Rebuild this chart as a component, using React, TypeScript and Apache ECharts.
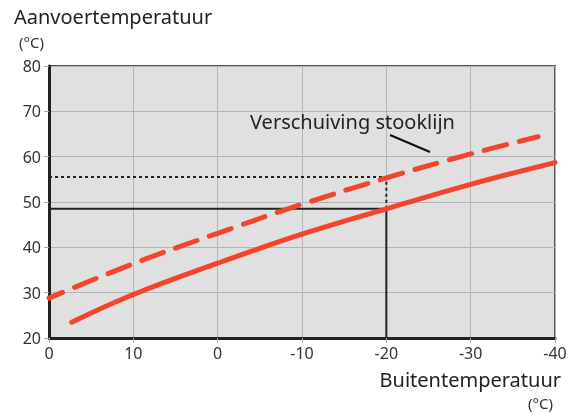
import React, { useEffect, useRef } from "react";
import * as echarts from "echarts";

const xTickLabels = ["0", "10", "0", "-10", "-20", "-30", "-40"];
const solidCurve: [number, number][] = [
  [17.3, 23.5], [10, 29.6], [0, 36.5], [-10, 42.9], [-20, 48.5], [-30, 53.9], [-40, 58.7],
];
const dashedCurve: [number, number][] = [
  [20, 28.8], [10, 36.4], [0, 43.1], [-10, 49.5], [-20, 55.3], [-30, 60.6], [-38, 64.4],
];
const solidGuide: [number, number][] = [[20, 48.5], [-20, 48.5], [-20, 20]];
const dottedGuide: [number, number][] = [[20, 55.5], [-20, 55.5], [-20, 48.5]];

const FONT = "Noto Sans";
const RED = "#f2452b";

export default function App() {
  const ref = useRef<HTMLDivElement>(null);
  useEffect(() => {
    const chart = echarts.init(ref.current!, null, { renderer: "svg" });
    chart.setOption({
      animation: false,
      textStyle: { fontFamily: FONT },
      grid: {
        left: 49, top: 66, right: 18, bottom: 75,
        show: true, backgroundColor: "#e0e0e0", borderColor: "#555", borderWidth: 2,
      },
      xAxis: {
        type: "value", min: -40, max: 20, interval: 10, inverse: true,
        axisLine: { show: true, onZero: false, lineStyle: { color: "#222", width: 3 } },
        axisTick: { show: true, length: 5, lineStyle: { color: "#aaa" } },
        splitLine: { show: true, lineStyle: { color: "#b4b4b4", width: 1 } },
        axisLabel: {
          color: "#333", fontSize: 16, fontFamily: FONT, margin: 7,
          formatter: (v: number) => xTickLabels[Math.round((20 - v) / 10)],
        },
      },
      yAxis: {
        type: "value", min: 20, max: 80, interval: 10,
        axisLine: { show: true, onZero: false, lineStyle: { color: "#222", width: 3 } },
        axisTick: { show: true, length: 5, lineStyle: { color: "#aaa" } },
        splitLine: { show: true, lineStyle: { color: "#b4b4b4", width: 1 } },
        axisLabel: { color: "#333", fontSize: 16, fontFamily: FONT, margin: 8 },
      },
      series: [
        {
          type: "line", data: solidGuide, symbol: "none",
          lineStyle: { color: "#222", width: 2 }, z: 3,
        },
        {
          type: "line", data: dottedGuide, symbol: "none",
          lineStyle: { color: "#222", width: 2, type: [3, 3] }, z: 3,
        },
        {
          type: "line", data: solidCurve, symbol: "none", smooth: 0.4,
          lineStyle: { color: RED, width: 5, cap: "round" }, z: 4,
        },
        {
          type: "line", data: dashedCurve, symbol: "none", smooth: 0.4,
          lineStyle: { color: RED, width: 5, type: [23, 13], cap: "round", dashOffset: 8 }, z: 4,
        },
      ],
      graphic: [
        { type: "text", left: 14, top: 6, style: { text: "Aanvoertemperatuur", fontSize: 20, fontFamily: FONT, fill: "#222" } },
        { type: "text", left: 19, top: 34, style: { text: "(°C)", fontSize: 15, fontFamily: FONT, fill: "#333" } },
        { type: "text", right: 12, top: 369, style: { text: "Buitentemperatuur", fontSize: 20, fontFamily: FONT, fill: "#222" } },
        { type: "text", right: 20, top: 395, style: { text: "(°C)", fontSize: 15, fontFamily: FONT, fill: "#333" } },
        { type: "text", left: 250, top: 111, style: { text: "Verschuiving stooklijn", fontSize: 20, fontFamily: FONT, fill: "#222" }, z: 10 },
        { type: "line", shape: { x1: 390, y1: 135, x2: 430, y2: 152 }, style: { stroke: "#111", lineWidth: 2 }, z: 10 },
      ],
    });
    return () => chart.dispose();
  }, []);
  return <div ref={ref} style={{ position: "fixed", left: 0, top: 0, width: 573, height: 413 }} />;
}
